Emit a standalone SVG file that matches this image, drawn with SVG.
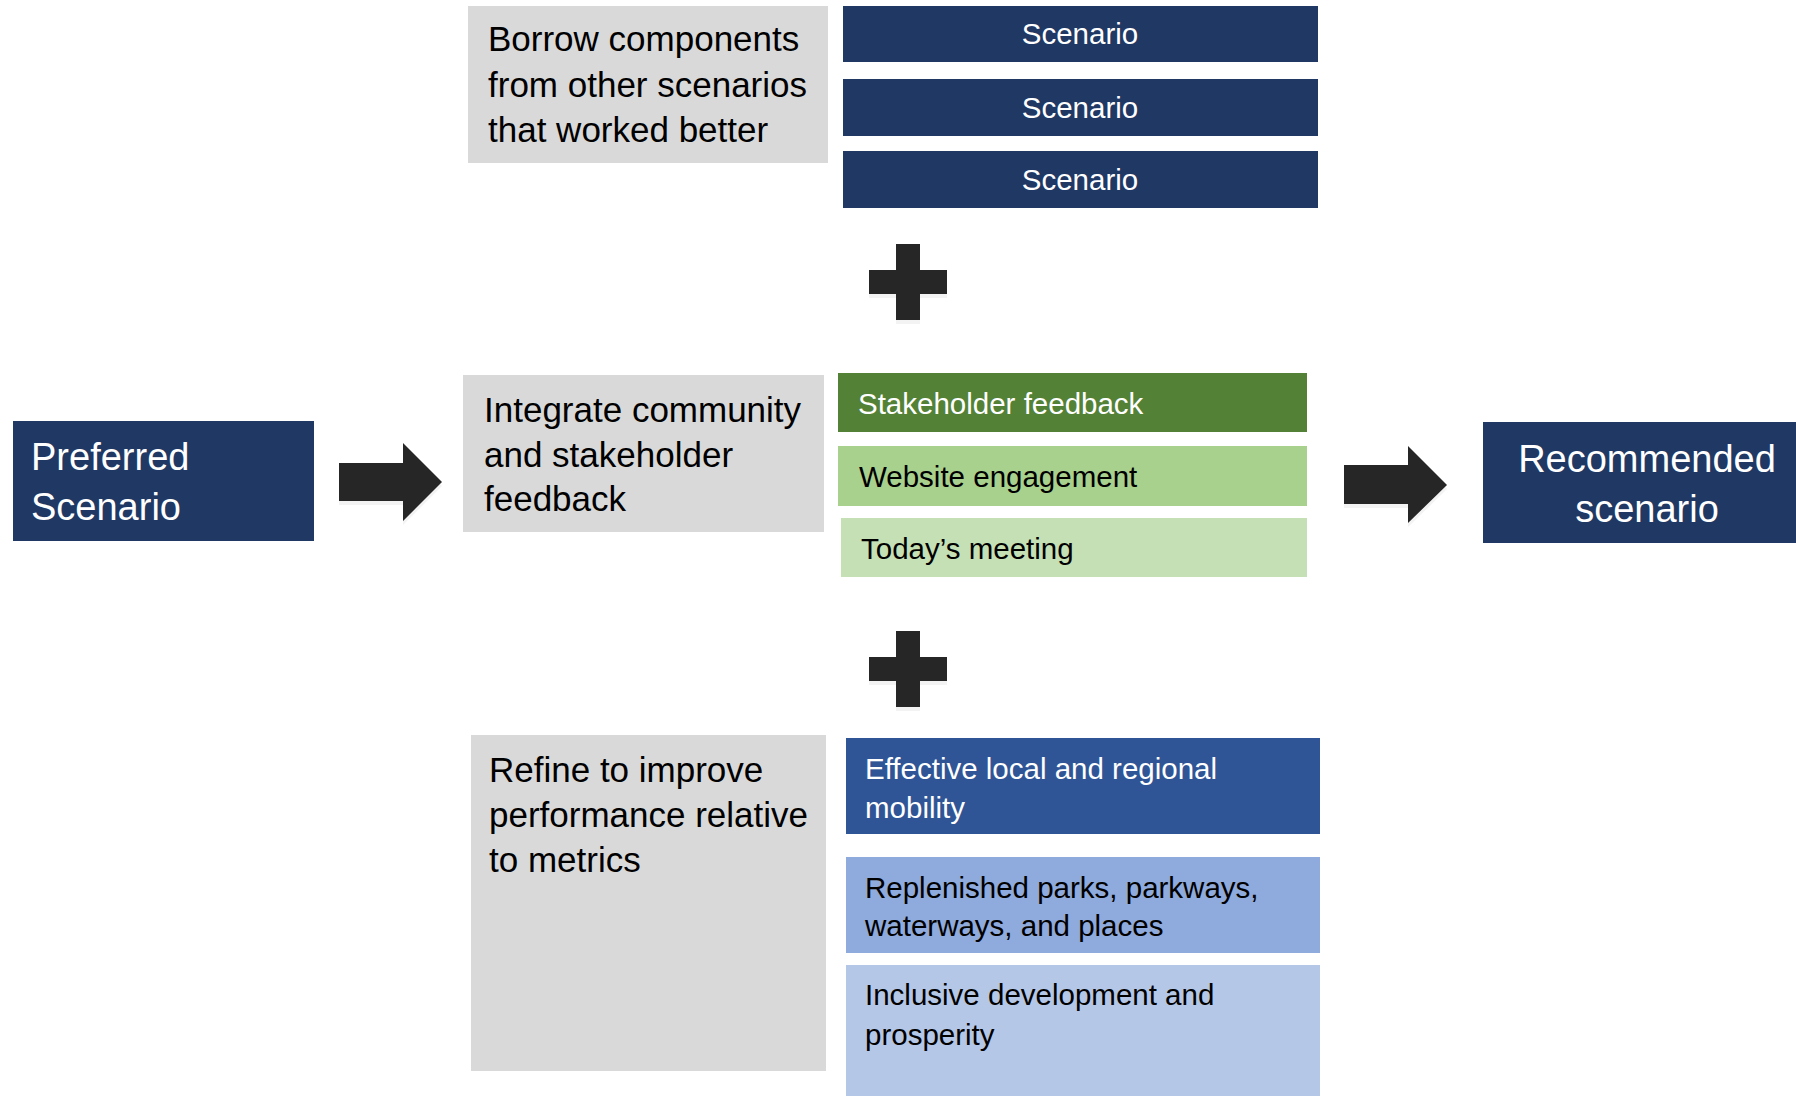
<svg xmlns="http://www.w3.org/2000/svg" width="1796" height="1096" viewBox="0 0 1796 1096">
<style>
text{font-family:"Liberation Sans",Arial,sans-serif;}
.big{font-size:35px;fill:#000;}
.hdr{font-size:38px;fill:#fff;}
.sm{font-size:29.5px;}
.w{fill:#fff;}
.k{fill:#000;}
.navy{fill:#203864;}
.gray{fill:#D9D9D9;}
.dark{fill:#262626;}
.shadow{fill:#F3F3F3;}
</style>
<rect width="1796" height="1096" fill="#fff"/>

<g id="preferred">
<rect class="navy" x="13" y="421" width="301" height="120"/>
<text class="hdr" x="31" y="470">Preferred</text>
<text class="hdr" x="31" y="520">Scenario</text>
</g>

<g id="borrow">
<rect class="gray" x="468" y="6" width="360" height="157"/>
<text class="big" x="488" y="51">Borrow components</text>
<text class="big" x="488" y="97">from other scenarios</text>
<text class="big" x="488" y="142">that worked better</text>
</g>

<g id="scenario1">
<rect class="navy" x="843" y="6" width="475" height="56"/>
<text class="sm w" x="1080" y="44" text-anchor="middle">Scenario</text>
</g>
<g id="scenario2">
<rect class="navy" x="843" y="79" width="475" height="57"/>
<text class="sm w" x="1080" y="118" text-anchor="middle">Scenario</text>
</g>
<g id="scenario3">
<rect class="navy" x="843" y="151" width="475" height="57"/>
<text class="sm w" x="1080" y="190" text-anchor="middle">Scenario</text>
</g>

<g id="plus1">
<path class="shadow" d="M896 248h24v26h27v24h-27v26h-24v-26h-27v-24h27z"/>
<path class="dark" d="M896 244h24v26h27v24h-27v26h-24v-26h-27v-24h27z"/>
</g>

<g id="integrate">
<rect class="gray" x="463" y="375" width="361" height="157"/>
<text class="big" x="484" y="422">Integrate community</text>
<text class="big" x="484" y="467">and stakeholder</text>
<text class="big" x="484" y="511">feedback</text>
</g>

<g id="stakeholder">
<rect fill="#538135" x="838" y="373" width="469" height="59"/>
<text class="sm w" x="858" y="414">Stakeholder feedback</text>
</g>
<g id="website">
<rect fill="#A9D18E" x="838" y="446" width="469" height="60"/>
<text class="sm k" x="859" y="487">Website engagement</text>
</g>
<g id="today">
<rect fill="#C5E0B4" x="841" y="518" width="466" height="59"/>
<text class="sm k" x="861" y="559">Today’s meeting</text>
</g>

<g id="recommended">
<rect class="navy" x="1483" y="422" width="313" height="121"/>
<text class="hdr" x="1647" y="472" text-anchor="middle">Recommended</text>
<text class="hdr" x="1647" y="522" text-anchor="middle">scenario</text>
</g>

<g id="plus2">
<path class="shadow" d="M896 635h24v26h27v24h-27v26h-24v-26h-27v-24h27z"/>
<path class="dark" d="M896 631h24v26h27v24h-27v26h-24v-26h-27v-24h27z"/>
</g>

<g id="refine">
<rect class="gray" x="471" y="735" width="355" height="336"/>
<text class="big" x="489" y="782">Refine to improve</text>
<text class="big" x="489" y="827">performance relative</text>
<text class="big" x="489" y="872">to metrics</text>
</g>

<g id="mobility">
<rect fill="#2F5597" x="846" y="738" width="474" height="96"/>
<text class="sm w" x="865" y="779">Effective local and regional</text>
<text class="sm w" x="865" y="818">mobility</text>
</g>
<g id="parks">
<rect fill="#8FAADC" x="846" y="857" width="474" height="96"/>
<text class="sm k" x="865" y="898">Replenished parks, parkways,</text>
<text class="sm k" x="865" y="936">waterways, and places</text>
</g>
<g id="inclusive">
<rect fill="#B4C7E7" x="846" y="965" width="474" height="131"/>
<text class="sm k" x="865" y="1005">Inclusive development and</text>
<text class="sm k" x="865" y="1045">prosperity</text>
</g>

<g id="connectors">
<path class="shadow" d="M339 467h64v-20l39 39l-39 39v-20h-64z"/>
<path class="dark" d="M339 463h64v-20l39 39l-39 39v-20h-64z"/>
<path class="shadow" d="M1344 469h64v-19l39 39l-39 38v-19h-64z"/>
<path class="dark" d="M1344 465h64v-19l39 39l-39 38v-19h-64z"/>
</g>
</svg>
